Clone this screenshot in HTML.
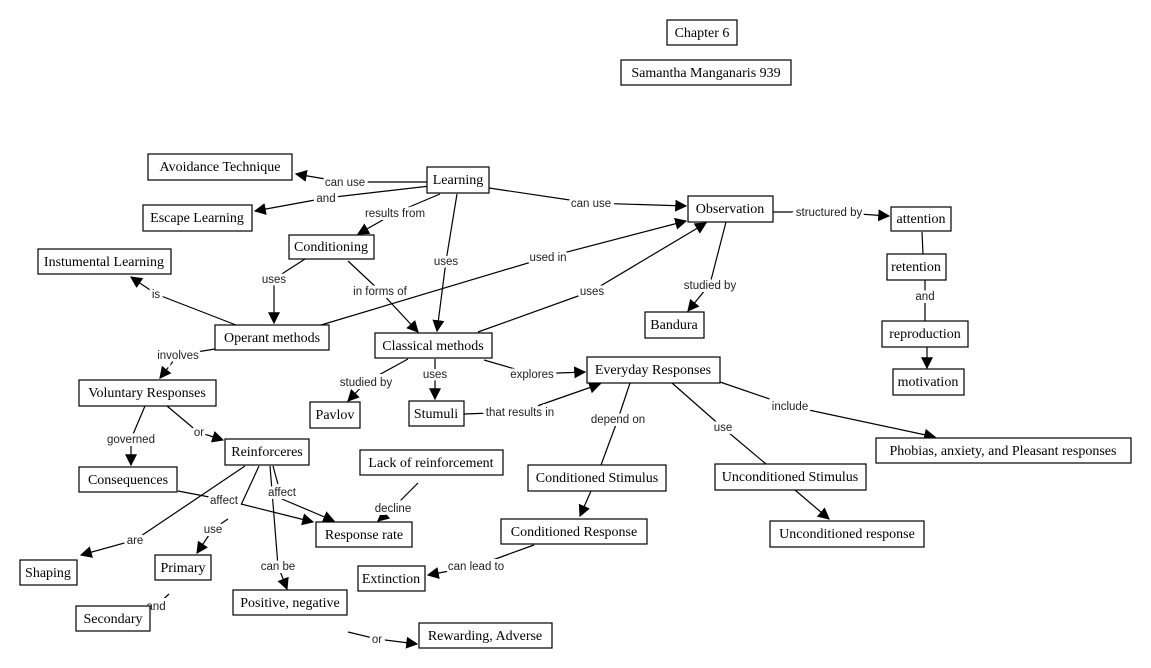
<!DOCTYPE html>
<html><head><meta charset="utf-8"><style>
html,body{margin:0;padding:0;background:#fff;width:1151px;height:668px;overflow:hidden}
svg text.n{font-family:"Liberation Serif",serif;font-size:14px;fill:#000}
svg text.l{font-family:"Liberation Sans",sans-serif;font-size:11.5px;fill:#222}
</style></head><body>
<svg width="1151" height="668" xmlns="http://www.w3.org/2000/svg">
<defs><marker id="a" viewBox="0 0 10 10" refX="9" refY="5" markerWidth="12" markerHeight="12" markerUnits="userSpaceOnUse" orient="auto"><path d="M0,0 L10,5 L0,10 z" fill="#000"/></marker></defs>
<g stroke="#000" stroke-width="1.2" fill="none">
<!-- edges: line A->label, label->B -->
<polyline points="430,182 343,182"/><polyline points="343,182 296,174" marker-end="url(#a)"/>
<polyline points="430,186 326,198"/><polyline points="326,198 255,211" marker-end="url(#a)"/>
<polyline points="440,194 395,213"/><polyline points="395,213 358,234" marker-end="url(#a)"/>
<polyline points="457,194 446,261"/><polyline points="446,261 437,331" marker-end="url(#a)"/>
<polyline points="489,188 590,203"/><polyline points="590,203 686,206" marker-end="url(#a)"/>
<polyline points="773,212 829,212"/><polyline points="829,212 889,216" marker-end="url(#a)"/>
<polyline points="922,232 923,254"/>
<polyline points="925,280 925,321"/>
<polyline points="927,347 927,368" marker-end="url(#a)"/>
<polyline points="726,222 710,284"/><polyline points="710,284 688,311" marker-end="url(#a)"/>
<polyline points="305,259 274,279"/><polyline points="274,279 274,323" marker-end="url(#a)"/>
<polyline points="348,261 380,291"/><polyline points="380,291 418,332" marker-end="url(#a)"/>
<polyline points="321,325 548,257"/><polyline points="548,257 686,221" marker-end="url(#a)"/>
<polyline points="478,332 592,291"/><polyline points="592,291 706,223" marker-end="url(#a)"/>
<polyline points="236,325 156,294"/><polyline points="156,294 131,277" marker-end="url(#a)"/>
<polyline points="215,349 178,355"/><polyline points="178,355 160,378" marker-end="url(#a)"/>
<polyline points="408,359 366,382"/><polyline points="366,382 348,401" marker-end="url(#a)"/>
<polyline points="435,359 435,373"/><polyline points="435,373 435,399" marker-end="url(#a)"/>
<polyline points="484,360 532,374"/><polyline points="532,374 585,372" marker-end="url(#a)"/>
<polyline points="464,414 520,412"/><polyline points="520,412 600,384" marker-end="url(#a)"/>
<polyline points="630,383 618,419 601,465"/>
<polyline points="672,383 722,427 766,464"/>
<polyline points="720,382 790,406"/><polyline points="790,406 935,437" marker-end="url(#a)"/>
<polyline points="591,491 580,516" marker-end="url(#a)"/>
<polyline points="795,490 829,519" marker-end="url(#a)"/>
<polyline points="534,545 476,566"/><polyline points="476,566 428,575" marker-end="url(#a)"/>
<polyline points="145,406 131,439"/><polyline points="131,439 131,465" marker-end="url(#a)"/>
<polyline points="167,406 198,432"/><polyline points="198,432 223,440" marker-end="url(#a)"/>
<polyline points="178,491 225,500"/><polyline points="225,500 313,522" marker-end="url(#a)"/>
<polyline points="259,466 241,505"/><polyline points="228,519 213,529"/><polyline points="213,529 197,553" marker-end="url(#a)"/>
<polyline points="245,466 135,540"/><polyline points="135,540 81,555" marker-end="url(#a)"/>
<polyline points="273,466 282,499"/><polyline points="282,499 334,521" marker-end="url(#a)"/>
<polyline points="270,466 278,566"/><polyline points="278,566 287,589" marker-end="url(#a)"/>
<polyline points="169,594 156,606 139,618"/>
<polyline points="348,632 377,639"/><polyline points="377,639 417,644" marker-end="url(#a)"/>
<polyline points="418,483 393,508"/><polyline points="393,508 378,521" marker-end="url(#a)"/>
</g>
<g stroke="#fff" stroke-width="6" paint-order="stroke" text-anchor="middle">
<text class="l" x="345" y="186">can use</text>
<text class="l" x="326" y="202">and</text>
<text class="l" x="395" y="217">results from</text>
<text class="l" x="446" y="265">uses</text>
<text class="l" x="591" y="207">can use</text>
<text class="l" x="829" y="216">structured by</text>
<text class="l" x="925" y="300">and</text>
<text class="l" x="710" y="289">studied by</text>
<text class="l" x="274" y="283">uses</text>
<text class="l" x="380" y="295">in forms of</text>
<text class="l" x="548" y="261">used in</text>
<text class="l" x="592" y="295">uses</text>
<text class="l" x="156" y="298">is</text>
<text class="l" x="178" y="359">involves</text>
<text class="l" x="366" y="386">studied by</text>
<text class="l" x="435" y="378">uses</text>
<text class="l" x="532" y="378">explores</text>
<text class="l" x="520" y="416">that results in</text>
<text class="l" x="618" y="423">depend on</text>
<text class="l" x="723" y="431">use</text>
<text class="l" x="790" y="410">include</text>
<text class="l" x="476" y="570">can lead to</text>
<text class="l" x="131" y="443">governed</text>
<text class="l" x="199" y="436">or</text>
<text class="l" x="224" y="504">affect</text>
<text class="l" x="213" y="533">use</text>
<text class="l" x="135" y="544">are</text>
<text class="l" x="282" y="496">affect</text>
<text class="l" x="278" y="570">can be</text>
<text class="l" x="156" y="610">and</text>
<text class="l" x="377" y="643">or</text>
<text class="l" x="393" y="512">decline</text>
</g>
<g stroke="#000" stroke-width="1.2" fill="#fff">
<rect x="667" y="20" width="70" height="25"/>
<rect x="621" y="60" width="170" height="25"/>
<rect x="148" y="154" width="144" height="26"/>
<rect x="427" y="167" width="62" height="26"/>
<rect x="143" y="205" width="109" height="26"/>
<rect x="688" y="196" width="85" height="26"/>
<rect x="891" y="207" width="60" height="24"/>
<rect x="289" y="235" width="85" height="24"/>
<rect x="38" y="249" width="133" height="25"/>
<rect x="887" y="254" width="59" height="26"/>
<rect x="882" y="321" width="86" height="26"/>
<rect x="893" y="369" width="71" height="26"/>
<rect x="645" y="312" width="59" height="26"/>
<rect x="215" y="325" width="114" height="25"/>
<rect x="375" y="333" width="117" height="25"/>
<rect x="587" y="357" width="133" height="26"/>
<rect x="79" y="380" width="137" height="26"/>
<rect x="310" y="402" width="50" height="26"/>
<rect x="409" y="401" width="55" height="25"/>
<rect x="876" y="438" width="255" height="25"/>
<rect x="225" y="439" width="84" height="26"/>
<rect x="360" y="450" width="143" height="25"/>
<rect x="79" y="467" width="98" height="25"/>
<rect x="528" y="465" width="138" height="26"/>
<rect x="715" y="464" width="151" height="26"/>
<rect x="316" y="522" width="96" height="25"/>
<rect x="501" y="519" width="146" height="25"/>
<rect x="770" y="521" width="154" height="26"/>
<rect x="20" y="560" width="57" height="25"/>
<rect x="155" y="555" width="56" height="25"/>
<rect x="358" y="566" width="67" height="25"/>
<rect x="233" y="590" width="114" height="25"/>
<rect x="76" y="606" width="74" height="25"/>
<rect x="419" y="623" width="133" height="25"/>
</g>
<g text-anchor="middle">
<text class="n" x="702" y="37">Chapter 6</text>
<text class="n" x="706" y="77">Samantha Manganaris 939</text>
<text class="n" x="220" y="171">Avoidance Technique</text>
<text class="n" x="458" y="184">Learning</text>
<text class="n" x="197" y="222">Escape Learning</text>
<text class="n" x="730" y="213">Observation</text>
<text class="n" x="921" y="223">attention</text>
<text class="n" x="331" y="251">Conditioning</text>
<text class="n" x="104" y="266">Instumental Learning</text>
<text class="n" x="916" y="271">retention</text>
<text class="n" x="925" y="338">reproduction</text>
<text class="n" x="928" y="386">motivation</text>
<text class="n" x="674" y="329">Bandura</text>
<text class="n" x="272" y="342">Operant methods</text>
<text class="n" x="433" y="350">Classical methods</text>
<text class="n" x="653" y="374">Everyday Responses</text>
<text class="n" x="147" y="397">Voluntary Responses</text>
<text class="n" x="335" y="419">Pavlov</text>
<text class="n" x="436" y="418">Stumuli</text>
<text class="n" x="1003" y="455">Phobias, anxiety, and Pleasant responses</text>
<text class="n" x="267" y="456">Reinforceres</text>
<text class="n" x="431" y="467">Lack of reinforcement</text>
<text class="n" x="128" y="484">Consequences</text>
<text class="n" x="597" y="482">Conditioned Stimulus</text>
<text class="n" x="790" y="481">Unconditioned Stimulus</text>
<text class="n" x="364" y="539">Response rate</text>
<text class="n" x="574" y="536">Conditioned Response</text>
<text class="n" x="847" y="538">Unconditioned response</text>
<text class="n" x="48" y="577">Shaping</text>
<text class="n" x="183" y="572">Primary</text>
<text class="n" x="391" y="583">Extinction</text>
<text class="n" x="290" y="607">Positive, negative</text>
<text class="n" x="113" y="623">Secondary</text>
<text class="n" x="485" y="640">Rewarding, Adverse</text>
</g>
</svg>
</body></html>
